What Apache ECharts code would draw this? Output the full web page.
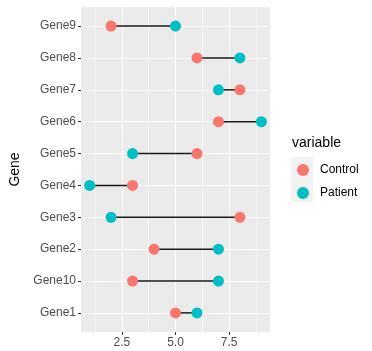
<!DOCTYPE html>
<html lang="en">
<head>
	<meta charset="UTF-8">
	<title>Dumbbell</title>
	<style>html,body{margin:0;padding:0;background:#fff;}</style>
</head>
<body>
	<div id="chart" style="width:372px;height:351px;"></div>
<script src="https://cdn.jsdelivr.net/npm/echarts@6/dist/echarts.min.js"></script>
<script>
	// genes, bottom to top
	var genes = ['Gene1','Gene10','Gene2','Gene3','Gene4','Gene5','Gene6','Gene7','Gene8','Gene9'];
	var control = [5, 3, 4, 8, 3, 6, 7, 8, 6, 2];
	var patient = [6, 7, 7, 2, 1, 3, 9, 7, 8, 5];
	var xTicks = [2.5, 5, 7.5];
	var xMinor = [1.25, 3.75, 6.25, 8.75];

	var pos = genes.map(function(g, i){ return i + 1; });
	var ctrlData = control.map(function(v, i){ return [v, i + 1]; });
	var patData = patient.map(function(v, i){ return [v, i + 1]; });
	var segData = genes.map(function(g, i){ return [control[i], patient[i], i + 1]; });

	var font = 'Liberation Sans, Arial, sans-serif';
	var chart = echarts.init(document.getElementById('chart'));
	var option = {
		backgroundColor: '#fff',
		animation: false,
		textStyle: { fontFamily: font },
		grid: {
			left: 71, right: 102, top: 7, bottom: 19,
			show: true, backgroundColor: '#EBEBEB', borderWidth: 0
		},
		legend: {
			orient: 'vertical',
			left: 297, top: 164, padding: 0,
			itemWidth: 12, itemHeight: 12, itemGap: 11,
			icon: 'circle',
			data: ['Control', 'Patient'],
			textStyle: { fontSize: 12, color: '#000', fontFamily: font, padding: [0, 0, 0, 6] }
		},
		graphic: [
			{ type: 'rect', left: 291, top: 157, shape: { width: 22, height: 45 }, style: { fill: '#F2F2F2' }, z: -1 },
			{ type: 'text', left: 292, top: 136, style: { text: 'variable', fontSize: 14, fill: '#000', font: '14px ' + font } }
		],
		xAxis: [{
			type: 'value', min: 0.6, max: 9.4,
			axisLine: { show: false },
			axisTick: { show: true, length: 3, lineStyle: { color: '#333' }, customValues: xTicks },
			axisLabel: { color: '#4D4D4D', fontSize: 12, margin: 5, customValues: xTicks,
				formatter: function(v){ return v.toFixed(1); } },
			splitLine: { show: true, lineStyle: { color: '#fff', width: 1.1 } }
		}, {
			type: 'value', min: 0.6, max: 9.4, position: 'bottom',
			axisLine: { show: false },
			axisTick: { show: false, customValues: xMinor },
			axisLabel: { show: false, customValues: xMinor },
			splitLine: { show: true, lineStyle: { color: '#fff', width: 0.5 } }
		}],
		yAxis: {
			type: 'value', min: 0.4, max: 10.6,
			name: 'Gene', nameLocation: 'middle', nameGap: 59, nameRotate: 90,
			nameTextStyle: { fontSize: 14, color: '#000', fontFamily: font },
			axisLine: { show: false },
			axisTick: { show: true, length: 3, lineStyle: { color: '#333' }, customValues: pos },
			axisLabel: { color: '#4D4D4D', fontSize: 12, margin: 5, customValues: pos,
				formatter: function(v){ return genes[Math.round(v) - 1]; } },
			splitLine: { show: true, lineStyle: { color: '#fff', width: 1.1 } }
		},
		series: [{
			type: 'custom',
			data: segData,
			encode: { x: [0, 1], y: 2 },
			renderItem: function(params, api){
				var a = api.coord([api.value(0), api.value(2)]);
				var b = api.coord([api.value(1), api.value(2)]);
				return { type: 'line', shape: { x1: a[0], y1: a[1], x2: b[0], y2: b[1] },
					style: { stroke: '#1a1a1a', lineWidth: 1.5 } };
			},
			z: 1
		}, {
			name: 'Control', type: 'scatter', data: ctrlData,
			symbolSize: 11, itemStyle: { color: '#F8766D', opacity: 1 }, z: 2
		}, {
			name: 'Patient', type: 'scatter', data: patData,
			symbolSize: 11, itemStyle: { color: '#00BFC4', opacity: 1 }, z: 2
		}]
	};
	chart.setOption(option);
</script>
</body>
</html>
